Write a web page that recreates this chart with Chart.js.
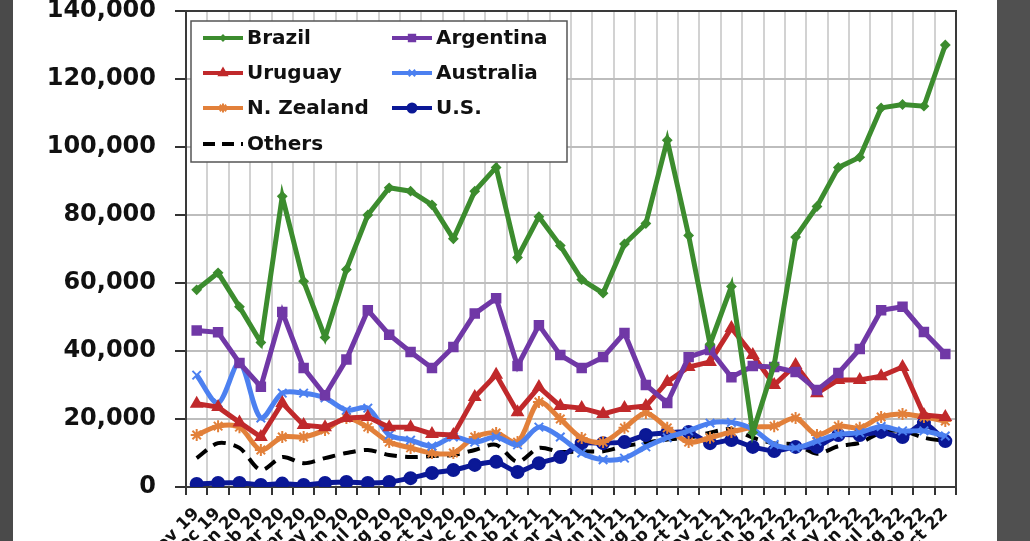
<!DOCTYPE html>
<html lang="en">
<head>
<meta charset="UTF-8" />
<title>Monthly imports by origin</title>
<script src="https://cdn.jsdelivr.net/npm/chart.js"></script>
<style>
  html, body { margin: 0; padding: 0; background: #fff; }
  .wrap { position: relative; width: 1030px; height: 541px; overflow: hidden; background: #fff; }
  .wrap canvas { position: absolute; left: 0; top: 0; }
  .edgeL { position: absolute; left: 0; top: 0; width: 13px; height: 541px; background: #4a4a4a; }
  .edgeR { position: absolute; left: 997px; top: 0; width: 33px; height: 541px; background: #505050; }
</style>
</head>
<body>
<div class="wrap">
  <canvas id="chart" width="1030" height="541"></canvas>
  <div class="edgeL"></div>
  <div class="edgeR"></div>
</div>

<script>
const months = ["Nov 19","Dec 19","Jan 20","Feb 20","Mar 20","Apr 20","May 20","Jun 20","Jul 20","Aug 20","Sep 20","Oct 20",
  "Nov 20","Dec 20","Jan 21","Feb 21","Mar 21","Apr 21","May 21","Jun 21","Jul 21","Aug 21","Sep 21","Oct 21",
  "Nov 21","Dec 21","Jan 22","Feb 22","Mar 22","Apr 22","May 22","Jun 22","Jul 22","Aug 22","Sep 22","Oct 22"];

const brazil = [58000, 63000, 53000, 42500, 85500, 60500, 44000, 64000, 80000, 88000, 87000, 83000,
  73000, 87000, 94000, 67500, 79500, 71000, 61000, 57000, 71500, 77500, 102000, 74000,
  42000, 59000, 16000, 36000, 73500, 82500, 94000, 97000, 111500, 112500, 112000, 130000];
const argentina = [46000, 45500, 36500, 29500, 51500, 35000, 27000, 37500, 52000, 44800, 39700, 35000,
  41200, 51000, 55500, 35600, 47600, 38800, 35000, 38200, 45300, 30000, 24700, 38200,
  40300, 32300, 35600, 35300, 33800, 28500, 33500, 40600, 52000, 53000, 45600, 39100];
const uruguay = [24500, 23500, 19000, 14700, 24700, 18200, 17600, 20300, 20600, 17600, 17600, 15600,
  15300, 26500, 33000, 22000, 29400, 23800, 23200, 21500, 23200, 23800, 30900, 35300,
  36800, 46800, 38800, 30000, 35900, 27600, 31500, 31500, 32600, 35300, 21200, 20600];
const australia = [32900, 24700, 36500, 20300, 27600, 27600, 26200, 22600, 23200, 15300, 13800, 12000,
  14700, 13200, 14700, 12400, 17600, 14700, 10000, 8000, 8500, 11800, 14500, 16500,
  18800, 19000, 17000, 12500, 11500, 13500, 15500, 16000, 17800, 16500, 16500, 15000];
const nZealand = [15300, 17900, 17600, 10900, 14700, 14700, 16800, 20300, 17600, 13200, 11500, 10000,
  10000, 14700, 15900, 13200, 25000, 20000, 14400, 13200, 17400, 21800, 17400, 13200,
  14500, 16200, 17600, 17900, 20300, 15300, 17900, 17400, 20600, 21500, 20600, 19400];
const us = [900, 1200, 1200, 600, 1000, 600, 1200, 1500, 1200, 1500, 2600, 4100,
  5000, 6500, 7400, 4400, 7000, 8800, 12900, 12900, 13200, 15300, 15900, 16200,
  12900, 13800, 11800, 10600, 11800, 11800, 15300, 15300, 16200, 14700, 18800, 13500];
const others = [8500, 12900, 11500, 5000, 8800, 7000, 8500, 10000, 10900, 9400, 8800, 9100,
  9400, 10900, 12400, 7400, 11500, 10300, 10500, 10500, 12000, 13000, 14000, 14500,
  16000, 17000, 14500, 12800, 12500, 9800, 12000, 13000, 16000, 16500, 14500, 13500];

const yTicks = [0, 20000, 40000, 60000, 80000, 100000, 120000, 140000];

function series(label, data, color, style, radius, tension) {
  return {
    label: label, data: data,
    borderColor: color, backgroundColor: color,
    borderWidth: 5, tension: tension,
    pointStyle: style, pointRadius: radius,
    pointBorderColor: color, pointBackgroundColor: color, pointBorderWidth: 2
  };
}

const datasets = [
  series("Brazil", brazil, "#3c8c2e", "rectRot", 4, 0),
  series("Argentina", argentina, "#7038a6", "rect", 6, 0),
  series("Uruguay", uruguay, "#c0292b", "triangle", 6, 0),
  series("Australia", australia, "#4c80f0", "crossRot", 6, 0.3),
  series("N. Zealand", nZealand, "#e2803a", "star", 6, 0.3),
  series("U.S.", us, "#0b1896", "circle", 6, 0.2),
  Object.assign(series("Others", others, "#000000", false, 0, 0.3), { borderWidth: 4, borderDash: [13, 8] })
];

// excel style legend box inside the plot + frame around the plot
const boxLegend = {
  id: "boxLegend",
  beforeDatasetsDraw(chart) {
    const a = chart.chartArea, ctx = chart.ctx;
    ctx.save();
    ctx.strokeStyle = "#3a3a3a";
    ctx.lineWidth = 2;
    ctx.strokeRect(a.left, a.top, a.right - a.left, a.bottom - a.top);
    ctx.restore();
  },
  afterDatasetsDraw(chart) {
    const ctx = chart.ctx;
    const bx = 191, by = 21, bw = 376, bh = 141;
    ctx.save();
    ctx.fillStyle = "#fff";
    ctx.fillRect(bx, by, bw, bh);
    ctx.strokeStyle = "#555";
    ctx.lineWidth = 1.5;
    ctx.strokeRect(bx, by, bw, bh);
    const cols = [203, 392], rowY = [38, 73, 108, 144];
    chart.data.datasets.forEach((ds, i) => {
      const x = cols[i % 2], y = rowY[Math.floor(i / 2)];
      ctx.strokeStyle = ds.borderColor;
      ctx.fillStyle = ds.borderColor;
      ctx.lineWidth = ds.borderDash ? 4 : 4;
      ctx.setLineDash(ds.borderDash ? [12, 7] : []);
      ctx.beginPath();
      ctx.moveTo(x, y);
      ctx.lineTo(x + 40, y);
      ctx.stroke();
      ctx.setLineDash([]);
      if (ds.pointStyle) {
        ctx.lineWidth = 2;
        Chart.helpers.drawPoint(ctx, { pointStyle: ds.pointStyle, radius: ds.pointRadius - 1.5, borderWidth: 2, rotation: 0 }, x + 20, y);
      }
      ctx.fillStyle = "#111";
      ctx.font = "bold 20px 'DejaVu Sans'";
      ctx.textBaseline = "middle";
      ctx.fillText(ds.label, x + 44, y + 1);
    });
    ctx.restore();
  }
};

new Chart(document.getElementById("chart"), {
  type: "line",
  data: { labels: months, datasets: datasets },
  options: {
    responsive: false,
    animation: false,
    layout: { padding: { left: 0, right: 74, top: 11, bottom: 0 } },
    plugins: { legend: { display: false }, tooltip: { enabled: false } },
    scales: {
      x: {
        offset: true,
        grid: { offset: true, color: "#d2d2d2", lineWidth: 2, tickColor: "#333", tickLength: 8, tickWidth: 2 },
        border: { display: true, color: "#3a3a3a", width: 2 },
        ticks: {
          autoSkip: false, minRotation: 45, maxRotation: 45, padding: 9,
          color: "#111", font: { family: "DejaVu Sans", weight: "bold", size: 17 }
        },
        afterFit(s) { s.height = 54; s.paddingLeft = 0; s.paddingRight = 0; }
      },
      y: {
        min: 0, max: 140000,
        afterBuildTicks(s) { s.ticks = yTicks.map(v => ({ value: v })); },
        grid: { color: "#bdbdbd", lineWidth: 2, tickColor: "#333", tickLength: 11, tickWidth: 2 },
        border: { display: true, color: "#3a3a3a", width: 2 },
        ticks: {
          padding: 19, color: "#111",
          font: { family: "DejaVu Sans", weight: "bold", size: 24 },
          callback: v => v.toLocaleString("en-US")
        },
        afterFit(s) { s.width = 186; s.paddingTop = 0; s.paddingBottom = 0; }
      }
    }
  },
  plugins: [boxLegend]
});
</script>
</body>
</html>
